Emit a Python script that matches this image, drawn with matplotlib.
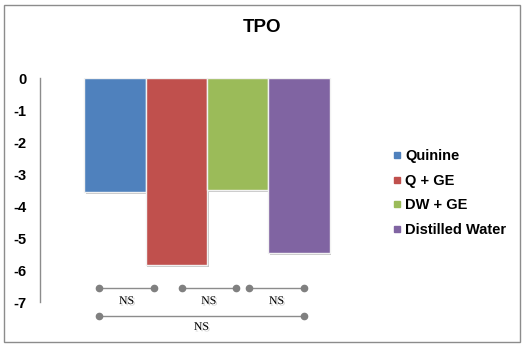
import matplotlib
matplotlib.use("Agg")
import matplotlib.pyplot as plt
from matplotlib.lines import Line2D
from matplotlib.patches import Rectangle
import matplotlib.patheffects as pe

# Treatment groups and their TPO change values
groups = ["Quinine", "Q + GE", "DW + GE", "Distilled Water"]
values = [-3.57, -5.84, -3.5, -5.47]
colors = ["#4F81BD", "#C0504D", "#9BBB59", "#8064A2"]
yticks = [0, -1, -2, -3, -4, -5, -6, -7]

# Pairwise comparison brackets: (start bar, end bar, label)
comparisons = [(0, 1, "NS"), (1, 2, "NS"), (2, 3, "NS")]
overall = (0, 3, "NS")

W, H = 524, 346
fig = plt.figure(figsize=(W / 100, H / 100), dpi=100)
fig.patch.set_facecolor("white")

# Outer chart border
fig.add_artist(Rectangle((4 / W, 4 / H), 516 / W, 337 / H, transform=fig.transFigure,
                         fill=False, edgecolor="#8c8c8c", linewidth=1.0))

ax = fig.add_axes([40 / W, 44 / H, 330 / W, 224 / H])
x = list(range(len(groups)))
shadow = [pe.SimplePatchShadow(offset=(1.2, -1.2), shadow_rgbFace="#7f7f7f", alpha=0.45), pe.Normal()]
bars = ax.bar(x, values, width=1.0, color=colors, edgecolor="#f2f2f2", linewidth=1.0)
for b in bars:
    b.set_path_effects(shadow)

ax.set_ylim(-7, 0)
ax.set_xlim(-1.22, 4.16)
ax.set_yticks(yticks)
ax.set_yticklabels([str(t) for t in yticks], fontsize=10.5, fontweight="bold",
                   fontfamily="Liberation Sans")
ax.tick_params(axis="y", length=0, pad=9.5)
ax.set_xticks([])
for s in ["top", "right", "bottom"]:
    ax.spines[s].set_visible(False)
ax.spines["left"].set_color("#8c8c8c")
ax.spines["left"].set_linewidth(1.0)

fig.text(262 / W, 1 - 27 / H, "TPO", ha="center", va="center", fontsize=13.5,
         fontweight="bold", fontfamily="Liberation Sans")

# Comparison brackets beneath the bars
def bracket(x0, x1, y_line, y_text, label):
    ax.plot([x0, x1], [y_line, y_line], color="#8c8c8c", linewidth=1.0,
            marker="o", markersize=4.5, markerfacecolor="#808080",
            markeredgecolor="#808080", clip_on=False)
    ax.text((x0 + x1) / 2, y_text, label, ha="center", va="center", fontsize=8.5,
            fontfamily="Liberation Serif", clip_on=False,
            path_effects=[pe.withSimplePatchShadow(offset=(1, -1), shadow_rgbFace="#999999", alpha=0.5)])

pair_x = [(-0.26, 0.64), (1.09, 1.97), (2.19, 3.08)]
for (i, j, lab), (x0, x1) in zip(comparisons, pair_x):
    bracket(x0, x1, -6.56, -6.97, lab)
bracket(-0.26, 3.08, -7.44, -7.78, overall[2])

handles = [Line2D([], [], linestyle="none", marker="s", markersize=4.5,
                  markerfacecolor=c, markeredgecolor=c) for c in colors]
fig.legend(handles, groups, loc="upper left", bbox_to_anchor=(385 / W, 1 - 142 / H),
           frameon=False, handlelength=0.6, handletextpad=0.3, labelspacing=0.72,
           borderpad=0, prop={"family": "Liberation Sans", "weight": "bold", "size": 10.5})

fig.savefig("out.png", dpi=100)
